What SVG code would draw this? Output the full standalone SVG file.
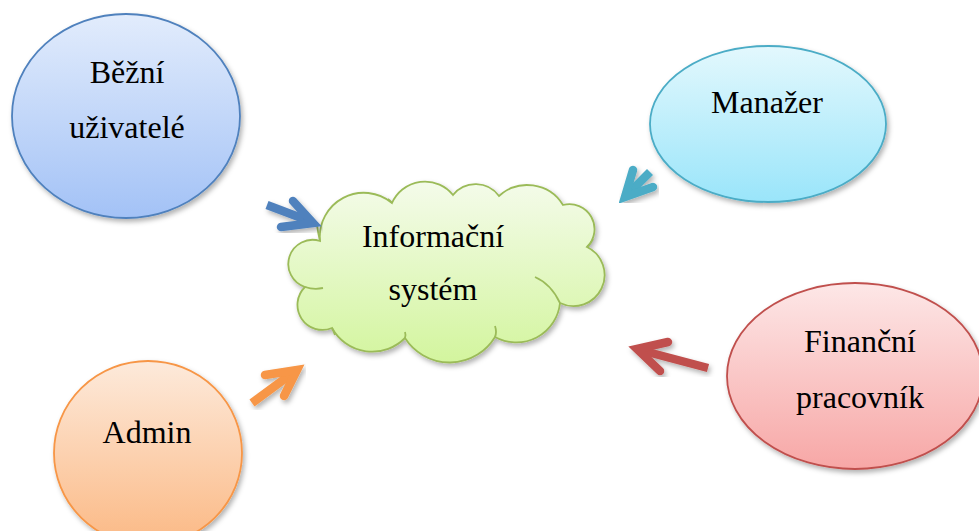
<svg xmlns="http://www.w3.org/2000/svg" width="979" height="531" viewBox="0 0 979 531">
  <defs>
    <linearGradient id="gBlue" x1="0" y1="0" x2="0" y2="1">
      <stop offset="0" stop-color="#e2ecfc"/>
      <stop offset="1" stop-color="#a3c2f6"/>
    </linearGradient>
    <linearGradient id="gCyan" x1="0" y1="0" x2="0" y2="1">
      <stop offset="0" stop-color="#e3f8fd"/>
      <stop offset="1" stop-color="#9ae5fa"/>
    </linearGradient>
    <linearGradient id="gRed" x1="0" y1="0" x2="0" y2="1">
      <stop offset="0" stop-color="#fde7e7"/>
      <stop offset="1" stop-color="#f7a7a6"/>
    </linearGradient>
    <linearGradient id="gOrange" x1="0" y1="0" x2="0" y2="1">
      <stop offset="0" stop-color="#fdeadb"/>
      <stop offset="1" stop-color="#fbb985"/>
    </linearGradient>
    <linearGradient id="gGreen" x1="0" y1="0" x2="0" y2="1">
      <stop offset="0" stop-color="#f4fbea"/>
      <stop offset="1" stop-color="#d3f59e"/>
    </linearGradient>
    <filter id="shadow" x="-20%" y="-20%" width="140%" height="140%">
      <feDropShadow dx="2" dy="3" stdDeviation="2.5" flood-color="#000" flood-opacity="0.3"/>
    </filter>
  </defs>
  <style>
    .label { font-family: "Liberation Serif", "Times New Roman", serif; font-size: 32px; fill: #000; text-anchor: middle; }
    .node { stroke-width: 1.8; filter: url(#shadow); }
    .shaft { fill: none; stroke-width: 8.5; stroke-linecap: butt; }
    .head { fill: none; stroke-width: 8.5; stroke-linecap: round; stroke-linejoin: miter; stroke-miterlimit: 10; }
    .arrow { filter: url(#shadow); }
  </style>

  <rect width="979" height="531" fill="#ffffff"/>

  <!-- Actors around the system -->
  <g id="bezni-uzivatele">
    <ellipse class="node" cx="126" cy="116" rx="114" ry="102" fill="url(#gBlue)" stroke="#4f81bd"/>
    <text class="label" x="127" y="83">Běžní</text>
    <text class="label" x="127" y="138">uživatelé</text>
  </g>

  <g id="manazer">
    <ellipse class="node" cx="768" cy="124" rx="118" ry="78" fill="url(#gCyan)" stroke="#4bacc6"/>
    <text class="label" x="767" y="113">Manažer</text>
  </g>

  <g id="financni-pracovnik">
    <ellipse class="node" cx="855" cy="376" rx="128" ry="93" fill="url(#gRed)" stroke="#c0504d"/>
    <text class="label" x="860" y="352">Finanční</text>
    <text class="label" x="860" y="408">pracovník</text>
  </g>

  <g id="admin">
    <ellipse class="node" cx="148" cy="453" rx="94" ry="92" fill="url(#gOrange)" stroke="#f79646"/>
    <text class="label" x="147" y="443">Admin</text>
  </g>

  <!-- Central cloud -->
  <g id="informacni-system">
    <path class="node" fill="url(#gGreen)" stroke="#9bbb59"
      d="M320,241
         A44,44 0 0 1 392,203
         A36,36 0 0 1 453,195
         A29,29 0 0 1 499,196
         A42,42 0 0 1 563,205
         A25,25 0 0 1 587,247
         A31,31 0 0 1 560,303
         A44,44 0 0 1 495,337
         A53,53 0 0 1 405,338
         A46,46 0 0 1 332,328
         A25,25 0 0 1 305,287
         A24,24 0 0 1 320,241 Z"/>
    <g fill="none" stroke="#9bbb59" stroke-width="1.8">
      <path d="M305,287 Q314,290 323,288"/>
      <path d="M332,328 Q334,332 335,335"/>
      <path d="M405,338 Q406,335 405,332"/>
      <path d="M495,337 Q497,332 495,326"/>
      <path d="M560,303 Q551,284 535,277"/>
      <path d="M587,247 Q591,244 593,239"/>
      <path d="M392,203 Q390,200 388,199"/>
      <path d="M320,241 Q318,233 317,225"/>
    </g>
    <text class="label" x="433" y="247">Informační</text>
    <text class="label" x="433" y="300">systém</text>
  </g>

  <!-- Arrows pointing into the system -->
  <g id="connectors">
    <g class="arrow" stroke="#4f81bd">
      <path class="shaft" d="M267,205 L312,222"/>
      <path class="head" d="M293,201 L313,223 L281,227"/>
    </g>
    <g class="arrow" stroke="#4bacc6">
      <path class="shaft" d="M650,172 L627,195"/>
      <path class="head" d="M633,170 L625,197 L653,187"/>
    </g>
    <g class="arrow" stroke="#c0504d">
      <path class="shaft" d="M708,368 L640,350"/>
      <path class="head" d="M668,342 L637,349 L660,371"/>
    </g>
    <g class="arrow" stroke="#f79646">
      <path class="shaft" d="M252,403 L294,372"/>
      <path class="head" d="M265,375 L297,370 L284,396"/>
    </g>
  </g>
</svg>
